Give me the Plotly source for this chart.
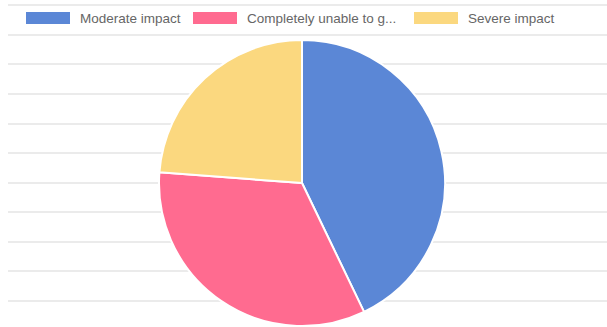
import plotly.graph_objects as go

categories = ["Moderate impact", "Completely unable to g...", "Severe impact"]
values = [18, 14, 10]
colors = ["#5b87d6", "#ff6b90", "#fbd87f"]

# legend layout (pixel positions of swatch left edges)
legend_x = [26, 193, 414]
W, H = 607, 327

fig = go.Figure()

# invisible trace so the background grid (y axis) is drawn
fig.add_trace(go.Scatter(x=[0], y=[0], mode="markers", marker=dict(opacity=0),
                         hoverinfo="skip", showlegend=False))

cx, cy, r = 302, 183, 143
fig.add_trace(go.Pie(
    labels=categories, values=values, sort=False, direction="clockwise",
    rotation=0, marker=dict(colors=colors, line=dict(color="white", width=2)),
    textinfo="none", showlegend=False,
    domain=dict(x=[(cx - r) / W, (cx + r) / W], y=[(H - cy - r) / H, (H - cy + r) / H]),
))

shapes = []
annotations = []
for lx, lab, col in zip(legend_x, categories, colors):
    shapes.append(dict(type="rect", xref="paper", yref="paper",
                       x0=lx / W, x1=(lx + 44) / W, y0=(H - 24) / H, y1=(H - 12) / H,
                       fillcolor=col, line=dict(width=0)))
    annotations.append(dict(text=lab, xref="paper", yref="paper", x=(lx + 52) / W,
                            y=(H - 18) / H, xanchor="left", yanchor="middle",
                            showarrow=False, font=dict(family="Liberation Sans", size=13.5, color="#666666")))

fig.update_layout(
    width=W, height=H, margin=dict(l=0, r=0, t=0, b=0),
    paper_bgcolor="white", plot_bgcolor="white",
    xaxis=dict(domain=[8 / W, 1], range=[0, 1], showgrid=False, zeroline=False,
               showticklabels=False, showline=False, fixedrange=True),
    yaxis=dict(range=[-0.88, 10.18], tick0=0, dtick=1, showgrid=True, gridcolor="#ebebeb",
               gridwidth=2, zeroline=False, showticklabels=False, showline=False, fixedrange=True),
    shapes=shapes, annotations=annotations,
)

fig.write_html("out.html")
